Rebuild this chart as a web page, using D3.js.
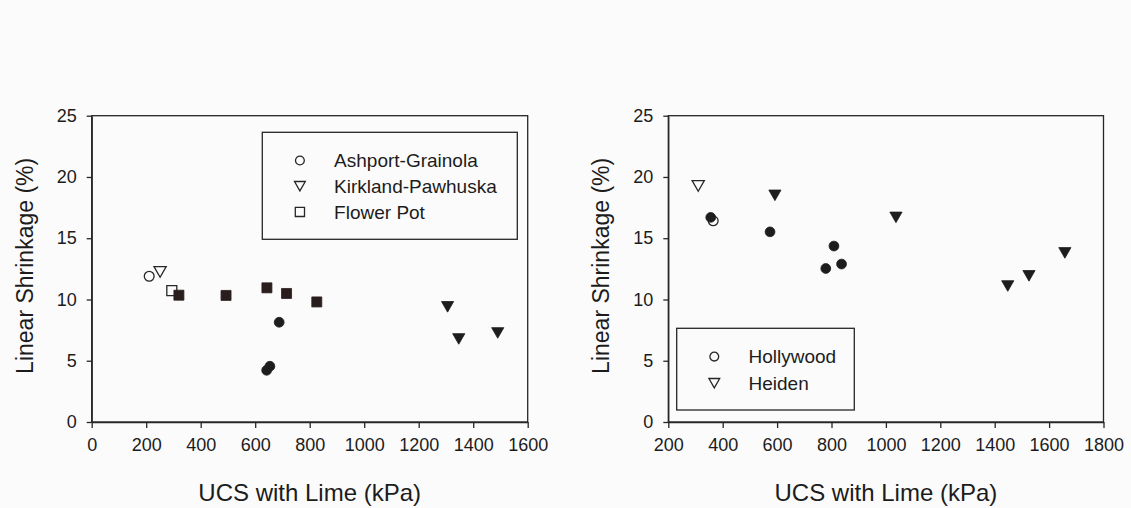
<!DOCTYPE html>
<html>
<head>
<meta charset="utf-8">
<script src="https://cdn.jsdelivr.net/npm/d3@7/dist/d3.min.js"></script>
<style>
  html, body { margin: 0; padding: 0; background: #fbfbfb; }
  svg { display: block; }
  text { font-family: "Liberation Sans", Arial, Helvetica, sans-serif; fill: #1c1c1c; }
</style>
</head>
<body>
<svg id="chart" width="1131" height="508"></svg>
<script>
// ---- data: UCS with lime (kPa) vs linear shrinkage (%) ----
// Left panel
const leftXTicks = [0, 200, 400, 600, 800, 1000, 1200, 1400, 1600];
const leftYTicks = [0, 5, 10, 15, 20, 25];
const ashportOpen = [{ ucs: 211, ls: 11.9 }];
const ashportLime = [{ ucs: 688, ls: 8.14 }, { ucs: 642, ls: 4.22 }, { ucs: 654, ls: 4.55 }];
const kirklandOpen = [{ ucs: 251, ls: 12.25 }];
const kirklandLime = [{ ucs: 1306, ls: 9.4 }, { ucs: 1347, ls: 6.78 }, { ucs: 1490, ls: 7.27 }];
const flowerOpen = [{ ucs: 294, ls: 10.73 }];
const flowerLime = [
  { ucs: 320, ls: 10.35 }, { ucs: 493, ls: 10.33 }, { ucs: 643, ls: 10.95 },
  { ucs: 715, ls: 10.49 }, { ucs: 826, ls: 9.8 }
];
const leftLegend = ["Ashport-Grainola", "Kirkland-Pawhuska", "Flower Pot"];

// Right panel
const rightXTicks = [200, 400, 600, 800, 1000, 1200, 1400, 1600, 1800];
const rightYTicks = [0, 5, 10, 15, 20, 25];
const hollywoodOpen = [{ ucs: 365, ls: 16.42 }];
const hollywoodLime = [
  { ucs: 356, ls: 16.7 }, { ucs: 574, ls: 15.52 }, { ucs: 809, ls: 14.36 },
  { ucs: 779, ls: 12.53 }, { ucs: 837, ls: 12.89 }
];
const heidenOpen = [{ ucs: 310, ls: 19.27 }];
const heidenLime = [
  { ucs: 592, ls: 18.5 }, { ucs: 1037, ls: 16.7 }, { ucs: 1448, ls: 11.1 },
  { ucs: 1526, ls: 11.93 }, { ucs: 1658, ls: 13.8 }
];
const rightLegend = ["Hollywood", "Heiden"];

const xTitle = "UCS with Lime (kPa)";
const yTitle = "Linear Shrinkage (%)";

// ---- styling ----
const ink = "#262626";
const fillDark = "#1d1d1d";
const fillSquare = "#2a1d1d";

const svg = d3.select("#chart");

// marker shapes (relative to the point)
const shapes = {
  circle: "M4.9,0A4.9,4.9 0 1,1 -4.9,0A4.9,4.9 0 1,1 4.9,0Z",
  triangle: "M-6.1,-5.3L6.1,-5.3L0,5.3Z",
  square: "M-5,-5H5V5H-5Z"
};
const legendShapes = {
  circle: "M4.4,0A4.4,4.4 0 1,1 -4.4,0A4.4,4.4 0 1,1 4.4,0Z",
  triangle: "M-5.4,-4.7L5.4,-4.7L0,4.7Z",
  square: "M-4.6,-4.6H4.6V4.6H-4.6Z"
};

function drawPanel(cfg) {
  const g = svg.append("g");
  const x = d3.scaleLinear().domain(cfg.xDomain).range(cfg.xRange);
  const y = d3.scaleLinear().domain([0, 25]).range([422, 115.7]);

  // frame
  g.append("rect")
    .attr("x", cfg.xRange[0]).attr("y", y(25))
    .attr("width", cfg.xRange[1] - cfg.xRange[0]).attr("height", y(0) - y(25))
    .attr("fill", "none").attr("stroke", ink).attr("stroke-width", 1.3);

  // axes
  const xa = g.append("g").attr("transform", `translate(0,${y(0)})`)
    .call(d3.axisBottom(x).tickValues(cfg.xTicks).tickFormat(d3.format("d"))
      .tickSize(6).tickSizeOuter(0).tickPadding(10));
  const ya = g.append("g").attr("transform", `translate(${cfg.xRange[0]},0)`)
    .call(d3.axisLeft(y).tickValues(cfg.yTicks).tickFormat(d3.format("d"))
      .tickSize(5).tickSizeOuter(0).tickPadding(10));
  [xa, ya].forEach(a => {
    a.select(".domain").attr("stroke", ink).attr("stroke-width", 1.3);
    a.selectAll(".tick line").attr("stroke", ink).attr("stroke-width", 1.3);
    a.selectAll(".tick text").attr("font-size", 18).attr("fill", "#1c1c1c")
      .style("font-family", '"Liberation Sans", Arial, sans-serif');
  });

  // axis titles
  const cx = (cfg.xRange[0] + cfg.xRange[1]) / 2;
  g.append("text").attr("x", cx).attr("y", 501)
    .attr("text-anchor", "middle").attr("font-size", 24).text(xTitle);
  g.append("text")
    .attr("transform", `translate(${cfg.xRange[0] - 67},${(y(0) + y(25)) / 2 - 3}) rotate(-90)`)
    .attr("text-anchor", "middle").attr("dominant-baseline", "central")
    .attr("font-size", 23).text(yTitle);

  // legend
  const lg = g.append("g");
  lg.append("rect")
    .attr("x", cfg.legend.x).attr("y", cfg.legend.y)
    .attr("width", cfg.legend.w).attr("height", cfg.legend.h)
    .attr("fill", "none").attr("stroke", ink).attr("stroke-width", 1.3);
  cfg.legend.items.forEach((name, i) => {
    const cy = cfg.legend.y + cfg.legend.first + i * cfg.legend.step;
    lg.append("path").attr("d", legendShapes[cfg.legend.shapes[i]])
      .attr("transform", `translate(${cfg.legend.x + 37.6},${cy})`)
      .attr("fill", "none").attr("stroke", ink).attr("stroke-width", 1.3);
    lg.append("text").attr("x", cfg.legend.x + 71.8).attr("y", cy + 6.8)
      .attr("font-size", 19).text(name);
  });

  // points: open (no lime) then filled (with lime)
  cfg.series.forEach(s => {
    g.append("g").selectAll("path").data(s.open).join("path")
      .attr("d", shapes[s.shape])
      .attr("transform", d => `translate(${x(d.ucs)},${y(d.ls)})`)
      .attr("fill", "none").attr("stroke", ink).attr("stroke-width", 1.3);
  });
  cfg.series.forEach(s => {
    g.append("g").selectAll("path").data(s.filled).join("path")
      .attr("d", shapes[s.shape])
      .attr("transform", d => `translate(${x(d.ucs)},${y(d.ls)})`)
      .attr("fill", s.shape === "square" ? fillSquare : fillDark)
      .attr("stroke", s.shape === "square" ? fillSquare : fillDark).attr("stroke-width", 0.8);
  });
}

drawPanel({
  xDomain: [0, 1600], xRange: [91.7, 527.7],
  xTicks: leftXTicks, yTicks: leftYTicks,
  legend: { x: 262.3, y: 132.3, w: 255, h: 107, first: 28.2, step: 25.7,
            items: leftLegend, shapes: ["circle", "triangle", "square"] },
  series: [
    { shape: "circle", open: ashportOpen, filled: ashportLime },
    { shape: "triangle", open: kirklandOpen, filled: kirklandLime },
    { shape: "square", open: flowerOpen, filled: flowerLime }
  ]
});

drawPanel({
  xDomain: [200, 1800], xRange: [668.3, 1103.5],
  xTicks: rightXTicks, yTicks: rightYTicks,
  legend: { x: 676.7, y: 328.3, w: 177.6, h: 81.7, first: 28.3, step: 26.6,
            items: rightLegend, shapes: ["circle", "triangle"] },
  series: [
    { shape: "circle", open: hollywoodOpen, filled: hollywoodLime },
    { shape: "triangle", open: heidenOpen, filled: heidenLime }
  ]
});
</script>
</body>
</html>
